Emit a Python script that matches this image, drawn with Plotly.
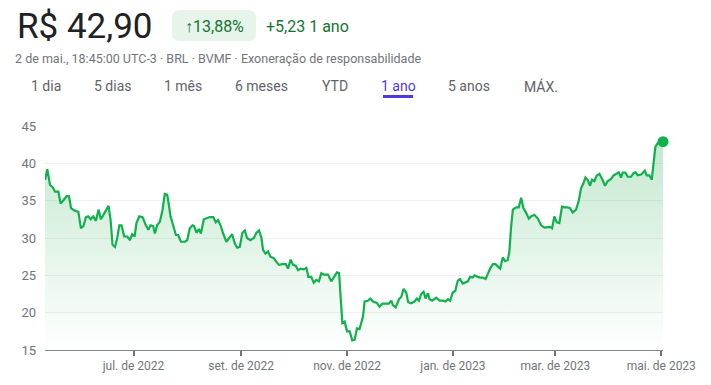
import pandas as pd
import plotly.graph_objects as go

# ---- data ----
start_date = "2022-05-11"
end_date = "2023-05-02"

day_offset = [
    0, 1.3, 2.9, 4.4, 5.8, 7.7, 9.0, 10.5, 12.5, 13.8,
    15.0, 16.7, 19.2, 20.7, 22.1, 23.6, 24.9, 26.3, 27.8, 29.3,
    30.9, 32.2, 34.5, 36.6, 37.8, 38.9, 40.3, 41.6, 42.8, 44.1,
    45.6, 47.4, 48.9, 50.2, 51.6, 52.7, 54.3, 56.2, 58.1, 59.5,
    60.8, 62.3, 63.3, 64.6, 66.2, 67.7, 69.0, 70.4, 71.5, 72.3,
    73.8, 75.4, 76.7, 78.3, 80.6, 81.9, 83.4, 85.0, 85.9, 87.3,
    88.6, 89.8, 91.5, 93.0, 94.9, 96.9, 98.4, 99.7, 101.3, 102.6,
    104.5, 106.1, 107.8, 109.3, 110.7, 112.2, 113.7, 115.1, 116.4, 118.3,
    120.3, 121.8, 123.3, 124.7, 125.6, 127.0, 128.5, 129.8, 131.8, 133.3,
    134.8, 136.7, 138.7, 140.0, 141.5, 142.9, 144.4, 145.8, 147.3, 149.0,
    150.6, 151.7, 153.4, 154.8, 156.3, 157.8, 159.2, 160.7, 163.0, 164.9,
    166.5, 168.2, 169.4, 170.1, 171.3, 172.6, 174.0, 175.5, 177.0, 178.4,
    179.7, 181.2,
    183.2, 184.1, 186.0, 187.4, 188.9, 191.2, 192.7, 194.3, 196.2, 198.1,
    199.5, 200.4, 202.0, 203.9, 205.2, 206.6, 208.1, 209.2, 211.0, 212.9,
    214.2, 215.4, 216.7, 218.1, 219.2, 220.6, 221.5, 223.1, 225.4, 227.3,
    229.2, 230.7, 232.1, 233.4, 234.9, 236.3, 237.8, 239.1, 240.7, 242.2,
    243.6, 244.9, 246.4, 247.4, 249.0, 250.7, 252.2, 253.8, 255.1, 256.4,
    258.0, 259.5, 260.8, 262.2, 263.7, 265.1, 266.6, 267.5, 268.5, 269.5,
    271.4, 272.9, 274.3, 275.6, 277.1, 278.7, 280.0, 281.9, 283.9, 285.8,
    287.7, 289.6, 290.9, 292.1, 293.4, 294.8, 296.3, 297.8, 299.2, 301.1,
    302.4, 304.0, 305.9, 307.4, 308.8, 310.1, 311.3, 312.6, 314.0, 315.1,
    316.5, 317.8, 319.4, 320.9, 322.6, 324.1, 326.1, 327.4, 329.0, 330.5,
    331.8, 332.8, 334.3, 335.7, 337.6, 338.9, 340.1, 341.4, 343.4, 345.5,
    346.6, 348.1, 349.5, 350.5, 351.6, 352.9, 356.0,
]

price = [
    37.77, 39.2, 37.1, 36.8, 36.2, 36.2, 34.6, 35.0, 35.6, 35.6,
    34.0, 33.7, 33.5, 31.3, 31.6, 32.8, 32.9, 32.5, 32.9, 32.3,
    33.8, 32.5, 33.5, 34.3, 32.4, 29.1, 28.8, 30.0, 31.7, 31.7,
    30.2, 30.2, 29.7, 30.5, 30.2, 32.0, 32.9, 32.8, 31.7, 31.1,
    31.7, 31.6, 30.6, 31.7, 32.2, 33.75, 35.9, 35.8, 34.2, 32.9,
    31.7, 30.4, 30.4, 29.5, 29.5, 29.7, 31.3, 31.7, 31.6, 30.7,
    31.2, 30.6, 32.5, 32.6, 32.8, 32.8, 32.1, 32.4, 31.6, 30.6,
    29.5, 30.0, 30.5, 29.3, 28.7, 28.8, 30.7, 31.0, 30.0, 29.7,
    30.0, 30.7, 31.0, 30.0, 28.4, 27.9, 28.2, 27.5, 27.3, 26.8,
    26.4, 26.5, 26.5, 25.9, 27.1, 26.4, 26.3, 25.7, 25.9, 25.8,
    26.0, 24.8, 24.8, 24.0, 24.4, 24.2, 25.3, 25.1, 25.1, 24.2,
    24.8, 25.4, 25.3, 22.6, 18.6, 18.8, 17.5, 17.5, 16.3, 16.4,
    17.9, 17.8,
    19.5, 21.5, 21.6, 21.9, 21.5, 21.3, 20.8, 21.2, 21.2, 21.2,
    21.6, 21.0, 20.7, 21.8, 22.1, 23.2, 22.7, 21.4, 21.25, 21.5,
    21.9, 21.6, 22.5, 22.8, 21.9, 22.6, 21.8, 21.6, 22.0, 21.6,
    21.6, 21.5, 21.8, 21.6, 22.7, 22.9, 24.3, 24.5, 23.9, 24.1,
    24.2, 24.8, 24.7, 25.0, 24.8, 24.7, 24.7, 24.5, 25.3, 25.9,
    26.5, 26.5, 26.2, 25.9, 27.4, 26.9, 27.05, 28.2, 31.5, 33.8,
    34.1, 34.1, 35.4, 34.0, 33.4, 32.6, 32.9, 33.1, 32.6, 31.7,
    31.4, 31.4, 31.5, 31.3, 32.9, 32.1, 32.0, 34.2, 34.1, 34.1,
    34.0, 33.4, 33.8, 34.9, 36.65, 37.3, 38.1, 37.8, 37.0, 37.8,
    37.6, 38.35, 38.6, 37.9, 37.0, 37.6, 37.9, 38.35, 38.6, 38.8,
    38.1, 38.75, 38.75, 38.2, 38.2, 38.65, 38.8, 38.4, 38.5, 39.0,
    38.4, 38.4, 37.8, 40.4, 42.2, 42.7, 42.9,
]

tick_dates = ["2022-07-01", "2022-09-01", "2022-11-01", "2023-01-01", "2023-03-01", "2023-05-01"]
tick_labels = ["jul. de 2022", "set. de 2022", "nov. de 2022", "jan. de 2023", "mar. de 2023", "mai. de 2023"]
y_ticks = [15, 20, 25, 30, 35, 40, 45]

price_text = "R$ 42,90"
change_pct_text = "<b>↑</b>13,88%"
change_abs_text = "+5,23 1 ano"
subtitle_text = "2 de mai., 18:45:00 UTC-3 · BRL · BVMF · Exoneração de responsabilidade"
tabs = ["1 dia", "5 dias", "1 mês", "6 meses", "YTD", "1 ano", "5 anos", "MÁX."]
active_tab = "1 ano"

# ---- styling / layout ----
W, H = 711, 385
ML, MR, MT, MB = 45, 48, 126, 35
PW, PH = W - ML - MR, H - MT - MB
FONT = "Roboto, Arial, sans-serif"
LINE = "#0fb14c"
TEXT_GREEN = "#137333"
PURPLE = "#5336e2"


def px_x(x):
    return (x - ML) / PW


def px_y(y):
    return (H - MB - y) / PH


dates = pd.Timestamp(start_date) + pd.to_timedelta(day_offset, unit="D")

fig = go.Figure()
fig.add_trace(go.Scatter(
    x=dates, y=price, mode="lines",
    line=dict(color=LINE, width=2.2),
    fill="tozeroy",
    fillgradient=dict(type="vertical", start=15, stop=44,
                      colorscale=[[0, "rgba(52,178,90,0)"], [1, "rgba(52,178,90,0.30)"]]),
    hoverinfo="skip", showlegend=False,
))
fig.add_trace(go.Scatter(
    x=[dates[-1]], y=[price[-1]], mode="markers",
    marker=dict(color=LINE, size=11),
    hoverinfo="skip", showlegend=False, cliponaxis=False,
))


def note(text, x, y, size, color, anchor="left"):
    return dict(text=text, x=px_x(x), y=px_y(y), xref="paper", yref="paper",
                xanchor=anchor, yanchor="middle", showarrow=False,
                font=dict(size=size, color=color, family=FONT))


annotations = [
    note(price_text, 15, 26, 35, "#202124"),
    note(change_pct_text, 214, 26, 16, TEXT_GREEN, "center"),
    note(change_abs_text, 264, 26, 16, TEXT_GREEN),
    note(subtitle_text, 13, 58, 12.5, "#70757a"),
]
tab_centers = [45.5, 112, 182.5, 261, 334.5, 398, 468.5, 540.5]
for t, cx in zip(tabs, tab_centers):
    annotations.append(note(t, cx, 86, 14, PURPLE if t == active_tab else "#5f6368", "center"))

# rounded badge behind the percentage
bx0, bx1, by0, by1, r = 172, 256, 10, 41, 8
path = (f"M {px_x(bx0 + r)},{px_y(by0)} L {px_x(bx1 - r)},{px_y(by0)} "
        f"Q {px_x(bx1)},{px_y(by0)} {px_x(bx1)},{px_y(by0 + r)} "
        f"L {px_x(bx1)},{px_y(by1 - r)} Q {px_x(bx1)},{px_y(by1)} {px_x(bx1 - r)},{px_y(by1)} "
        f"L {px_x(bx0 + r)},{px_y(by1)} Q {px_x(bx0)},{px_y(by1)} {px_x(bx0)},{px_y(by1 - r)} "
        f"L {px_x(bx0)},{px_y(by0 + r)} Q {px_x(bx0)},{px_y(by0)} {px_x(bx0 + r)},{px_y(by0)} Z")
shapes = [
    dict(type="path", path=path, xref="paper", yref="paper",
         fillcolor="#e6f4ea", line=dict(width=0), layer="below"),
    dict(type="line", xref="paper", yref="paper", x0=px_x(383), x1=px_x(413),
         y0=px_y(96.5), y1=px_y(96.5), line=dict(color=PURPLE, width=3)),
]

fig.update_layout(
    width=W, height=H, autosize=False,
    margin=dict(l=ML, r=MR, t=MT, b=MB, pad=0),
    paper_bgcolor="white", plot_bgcolor="white",
    font=dict(family=FONT, color="#70757a"),
    annotations=annotations, shapes=shapes,
    xaxis=dict(
        type="date", range=[start_date, end_date],
        tickvals=tick_dates, ticktext=tick_labels,
        ticks="outside", ticklen=5, tickwidth=2, tickcolor="#70757a",
        showgrid=False, showline=True, linecolor="#80868b", linewidth=1,
        tickfont=dict(size=12, color="#70757a"), zeroline=False, fixedrange=True,
        automargin=False,
    ),
    yaxis=dict(
        range=[15, 45], tickvals=y_ticks,
        showgrid=True, gridcolor="#eeeff1", gridwidth=1,
        zeroline=False, showline=False, ticks="",
        ticklabelstandoff=8, automargin=False,
        tickfont=dict(size=13, color="#70757a"), fixedrange=True,
    ),
)

fig.write_html("out.html", config={"displayModeBar": False},
               post_script="document.body.style.margin='0';")
